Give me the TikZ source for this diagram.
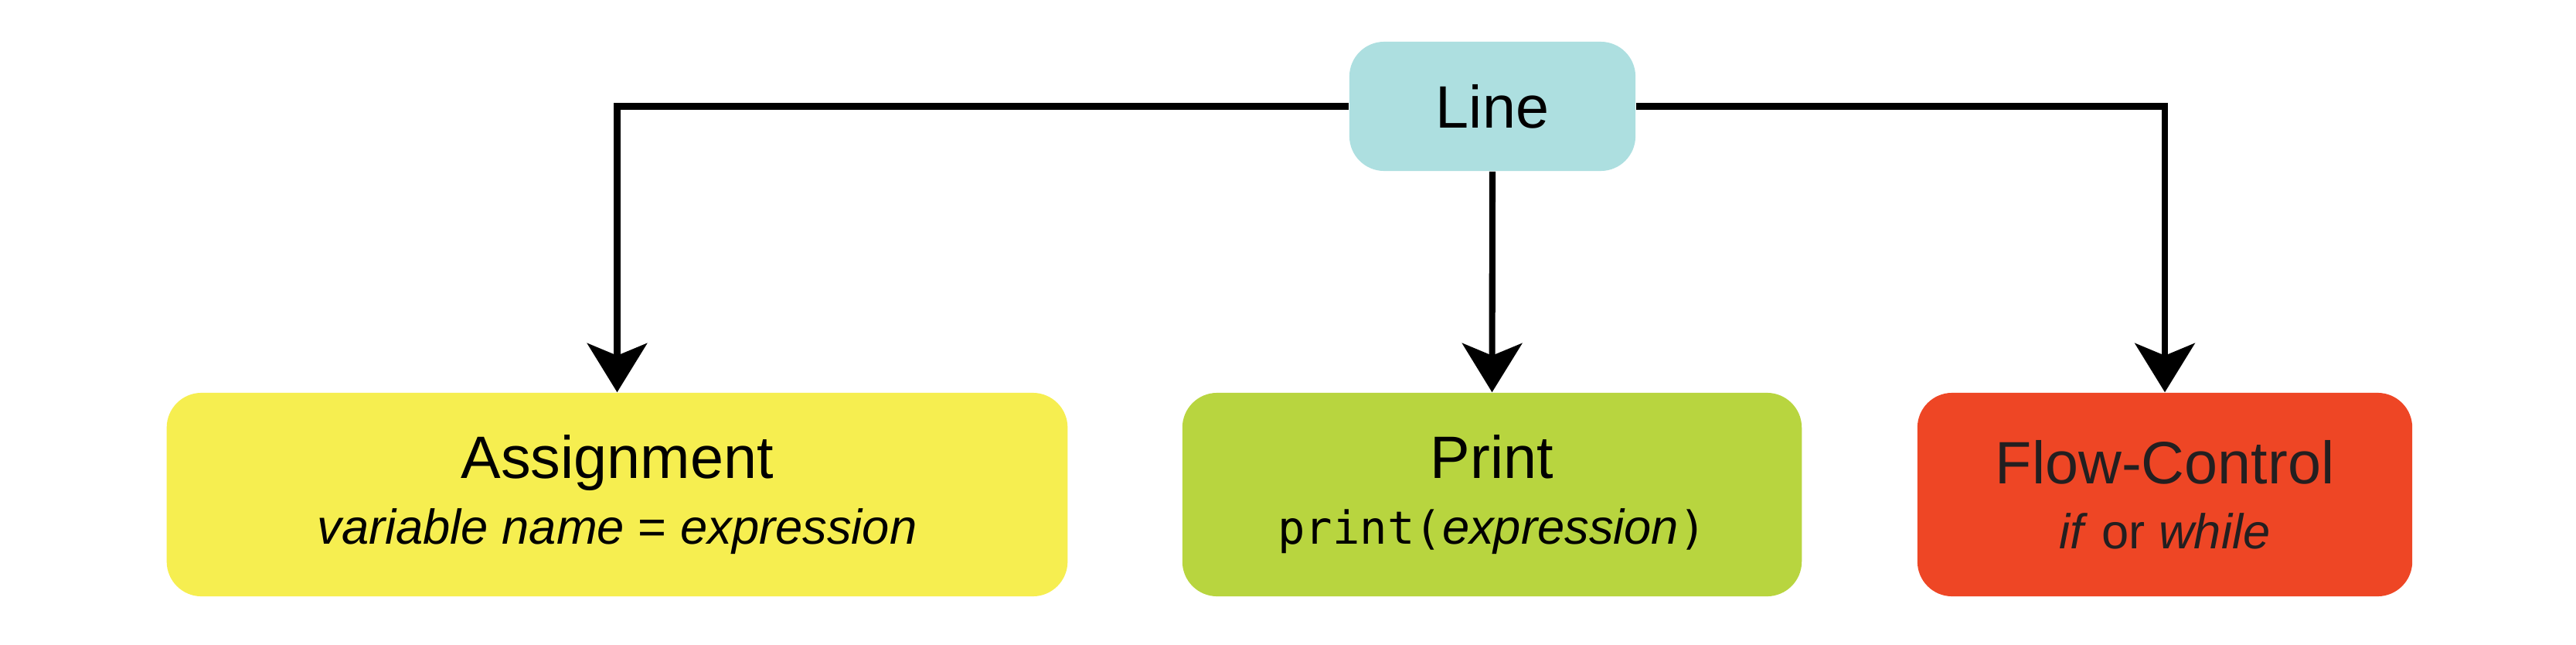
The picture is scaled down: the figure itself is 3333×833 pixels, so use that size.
\documentclass[tikz,border=0pt]{standalone}
\usepackage{fontspec}
\setmainfont{Liberation Sans}
\setmonofont[Scale=0.93]{DejaVu Sans Mono}
\usepackage{tikz}
\usetikzlibrary{arrows.meta, positioning}

\definecolor{linecyan}{RGB}{173,223,224}
\definecolor{assignyellow}{RGB}{246,238,80}
\definecolor{printgreen}{RGB}{184,213,63}
\definecolor{flowred}{RGB}{238,70,37}
\definecolor{darktext}{RGB}{35,31,32}
\newcommand{\detail}[1]{{\fontsize{18}{22}\selectfont #1}}

\begin{document}
\begin{tikzpicture}[x=0.01cm,y=-0.01cm]
        \useasboundingbox (0,0) rectangle (3333,833);
        \begin{scope}[every node/.style={rounded corners=0.45cm,inner sep=0pt,align=center,font=\fontsize{22}{24}\selectfont}]
          \node[fill=linecyan,minimum width=3.7cm,minimum height=1.67cm] (line) at (1931,137.5) {Line};
          \node[fill=assignyellow,minimum width=11.65cm,minimum height=2.63cm] (assign) at (798.5,639.5)
            {Assignment\\\detail{\textit{variable name} = \textit{expression}}};
          \node[fill=printgreen,minimum width=8.01cm,minimum height=2.63cm] (print) at (1930.5,639.5)
            {Print\\\detail{\texttt{print(}\textit{expression}\texttt{)}}};
          \node[fill=flowred,text=darktext,minimum width=6.4cm,minimum height=2.63cm] (flow) at (2801,639.5)
            {Flow-Control\\\detail{\textit{if} or \textit{while}}};
        \end{scope}
        \begin{scope}[every edge/.style={draw=black,line width=2.3pt,-{Stealth[length=18pt,width=22pt,inset=4.5pt]}},
                      elbow/.style={to path={-| (\tikztotarget)}}]
          \path (line.west) edge[elbow] (assign.north);
          \path (line.south) edge (print.north);
          \path (line.east) edge[elbow] (flow.north);
        \end{scope}
      \end{tikzpicture}
\end{document}
